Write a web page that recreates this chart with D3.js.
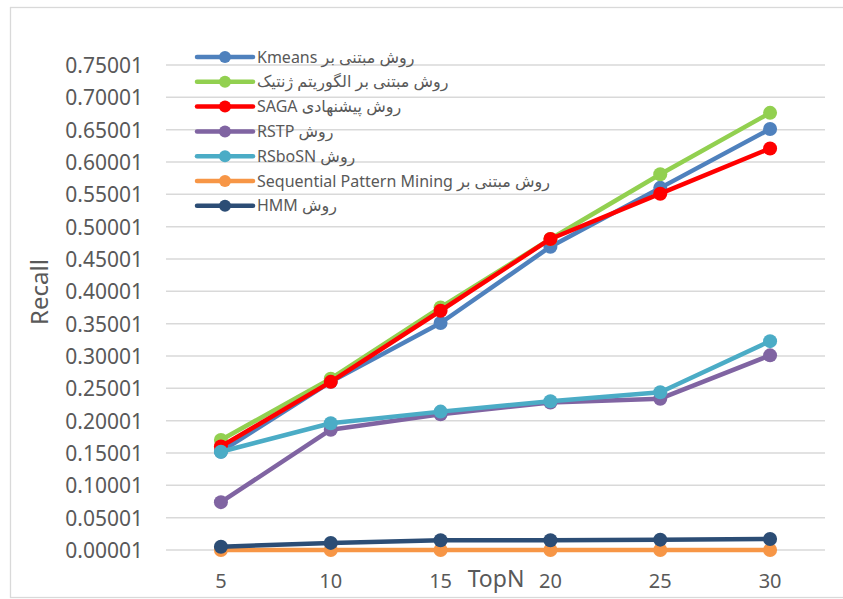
<!DOCTYPE html>
<html><head><meta charset="utf-8">
<script src="https://cdn.jsdelivr.net/npm/d3@7"></script>
<style>body{margin:0;background:#fff}svg{display:block}</style>
</head><body>
<svg id="c" width="843" height="599"></svg>
<script>
const categories = [5, 10, 15, 20, 25, 30];
const seriesNames = [
  "روش مبتنی بر Kmeans",
  "روش مبتنی بر الگوریتم ژنتیک",
  "روش پیشنهادی SAGA",
  "روش RSTP",
  "روش RSboSN",
  "روش مبتنی بر Sequential Pattern Mining",
  "روش HMM"
];
const seriesColors = ["#4f81bd", "#92d050", "#ff0000", "#8064a2", "#4bacc6", "#f79646", "#2c4d75"];
const kmeans  = [0.152, 0.260, 0.351, 0.469, 0.560, 0.651];
const genetic = [0.170, 0.265, 0.375, 0.481, 0.581, 0.676];
const saga    = [0.160, 0.260, 0.370, 0.481, 0.551, 0.621];
const rstp    = [0.074, 0.186, 0.210, 0.228, 0.234, 0.301];
const rsbosn  = [0.152, 0.196, 0.214, 0.230, 0.244, 0.323];
const spm     = [0.00001, 0.00001, 0.00001, 0.00001, 0.00001, 0.00001];
const hmm     = [0.005, 0.011, 0.015, 0.015, 0.016, 0.017];
const seriesValues = [kmeans, genetic, saga, rstp, rsbosn, spm, hmm];
const yTicks = [0.00001,0.05001,0.10001,0.15001,0.20001,0.25001,0.30001,0.35001,0.40001,0.45001,0.50001,0.55001,0.60001,0.65001,0.70001,0.75001];

const svg = d3.select("#c");
const font = "'Noto Sans', 'DejaVu Sans', sans-serif";
const textColor = "#595959";

// chart border
svg.append("rect").attr("x", 10.5).attr("y", 7.5).attr("width", 840).attr("height", 590)
  .attr("fill", "none").attr("stroke", "#d9d9d9").attr("stroke-width", 1.3);

const x = d3.scaleBand().domain(categories).range([166, 825]);
const y = d3.scaleLinear().domain([0.00001, 0.75001]).range([550, 65]);

// gridlines
svg.append("g").selectAll("line").data(yTicks).join("line")
  .attr("x1", 166).attr("x2", 825)
  .attr("y1", d => y(d)).attr("y2", d => y(d))
  .attr("stroke", "#d9d9d9").attr("stroke-width", 1.5);

// y axis
const yAxis = d3.axisLeft(y).tickValues(yTicks).tickFormat(d => d.toFixed(5)).tickSize(0).tickPadding(0);
const gy = svg.append("g").attr("transform", "translate(143,0)").call(yAxis);
gy.select(".domain").remove();
gy.selectAll("text").attr("font-family", font).attr("font-size", 21).attr("fill", textColor).attr("dy", "0.36em");

// x axis
const xAxis = d3.axisBottom(x).tickSize(0).tickPadding(0);
const gx = svg.append("g").attr("transform", "translate(0,574)").call(xAxis);
gx.select(".domain").remove();
gx.selectAll("text").attr("font-family", font).attr("font-size", 20).attr("fill", textColor).attr("dy", "0.71em");

// axis titles
svg.append("text").attr("x", 496).attr("y", 587).attr("text-anchor", "middle")
  .attr("font-family", font).attr("font-size", 23).attr("fill", textColor).text("TopN");
svg.append("text").attr("transform", "translate(48,292) rotate(-90)").attr("text-anchor", "middle")
  .attr("font-family", font).attr("font-size", 24).attr("fill", textColor).text("Recall");

// series
const line = d3.line().x((d, i) => x(categories[i]) + x.bandwidth() / 2).y(d => y(d));
seriesValues.forEach((vals, si) => {
  const g = svg.append("g");
  g.append("path").datum(vals).attr("d", line).attr("fill", "none")
    .attr("stroke", seriesColors[si]).attr("stroke-width", 4.5).attr("stroke-linejoin", "round");
  g.selectAll("circle").data(vals).join("circle")
    .attr("cx", (d, i) => x(categories[i]) + x.bandwidth() / 2)
    .attr("cy", d => y(d)).attr("r", 7).attr("fill", seriesColors[si]);
});

// legend
const leg = svg.append("g");
seriesNames.forEach((name, i) => {
  const cy = 57 + i * 24.8;
  leg.append("line").attr("x1", 197).attr("x2", 253).attr("y1", cy).attr("y2", cy)
    .attr("stroke", seriesColors[i]).attr("stroke-width", 4.5).attr("stroke-linecap", "round");
  leg.append("circle").attr("cx", 225).attr("cy", cy).attr("r", 6).attr("fill", seriesColors[i]);
  leg.append("text").attr("x", 257).attr("y", cy + 5.5)
    .attr("direction", "rtl").attr("text-anchor", "end")
    .attr("font-family", font).attr("font-size", 16).attr("fill", textColor).text(name);
});
</script>
</body></html>
